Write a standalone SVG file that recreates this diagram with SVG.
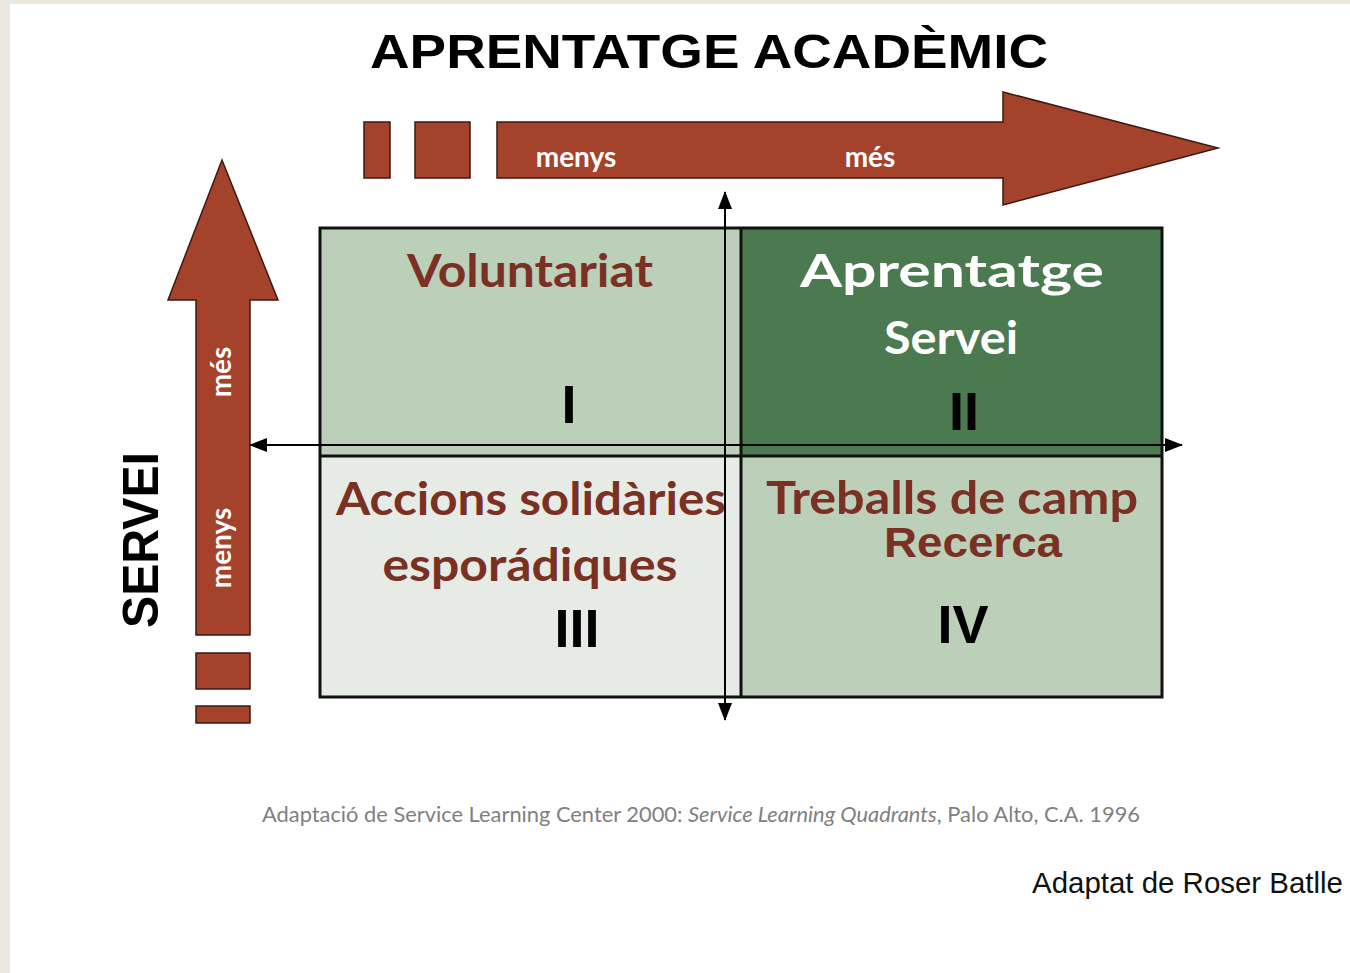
<svg xmlns="http://www.w3.org/2000/svg" width="1350" height="973" viewBox="0 0 1350 973">
<defs>
<style>
.red{fill:#A5422C;stroke:#3B1A12;stroke-width:1.5}
.title{font-family:"Liberation Sans",Arial,sans-serif;font-weight:bold;fill:#000}
.cal{font-family:Lato,"Open Sans",sans-serif;font-weight:bold}
.lab{fill:#7A3123}
.wht{fill:#FFFFFF}
.rom{font-family:"Liberation Sans",Arial,sans-serif;font-weight:bold;fill:#000;font-size:54px}
.edge{fill:none;stroke:#111;stroke-width:3}
.axis{stroke:#000;stroke-width:2;fill:none}
</style>
<marker id="ah" viewBox="0 0 18 14" refX="17" refY="7" markerWidth="18" markerHeight="14" markerUnits="userSpaceOnUse" orient="auto-start-reverse">
<path d="M0,0 L18,7 L0,14 Z" fill="#000"/>
</marker>
</defs>
<rect width="1350" height="973" fill="#FFFFFF"/>
<rect x="0" y="0" width="1350" height="4" fill="#ECE7DE"/>
<rect x="0" y="0" width="10" height="973" fill="#ECE7DE"/>

<g id="title">
<text class="title" x="709" y="68" font-size="48" text-anchor="middle" textLength="678" lengthAdjust="spacingAndGlyphs">APRENTATGE ACADÈMIC</text>
</g>

<g id="arrow-academic">
<rect class="red" x="364" y="122" width="26" height="56"/>
<rect class="red" x="415" y="122" width="55" height="56"/>
<path class="red" d="M497,122 L1003,122 L1003,92 L1218,148 L1003,205 L1003,178 L497,178 Z"/>
<text class="cal wht" x="576" y="167" font-size="28" text-anchor="middle">menys</text>
<text class="cal wht" x="870" y="167" font-size="28" text-anchor="middle">més</text>
</g>

<g id="arrow-servei">
<path class="red" d="M196,635 L196,300 L168,300 L222,160 L278,300 L250,300 L250,635 Z"/>
<rect class="red" x="196" y="653" width="54" height="36"/>
<rect class="red" x="196" y="706" width="54" height="17"/>
<text class="cal wht" transform="translate(231,372) rotate(-90)" font-size="28" text-anchor="middle">més</text>
<text class="cal wht" transform="translate(231,548) rotate(-90)" font-size="28" text-anchor="middle">menys</text>
</g>

<g id="label-servei">
<text class="title" transform="translate(158,540) rotate(-90)" font-size="50" text-anchor="middle" textLength="176" lengthAdjust="spacingAndGlyphs">SERVEI</text>
</g>

<g id="quadrant-I">
<rect x="320" y="228" width="421" height="228" fill="#BCCFB8"/>
<text class="cal lab" x="530" y="287" font-size="46" text-anchor="middle" textLength="246" lengthAdjust="spacingAndGlyphs">Voluntariat</text>
<text class="rom" x="569" y="423" text-anchor="middle">I</text>
</g>

<g id="quadrant-II">
<rect x="741" y="228" width="421" height="228" fill="#4B7A50"/>
<text class="cal wht" x="952" y="287" font-size="46" text-anchor="middle" textLength="304" lengthAdjust="spacingAndGlyphs">Aprentatge</text>
<text class="cal wht" x="951" y="354" font-size="46" text-anchor="middle" textLength="134" lengthAdjust="spacingAndGlyphs">Servei</text>
<text class="rom" x="964" y="430" text-anchor="middle">II</text>
</g>

<g id="quadrant-III">
<rect x="320" y="456" width="421" height="241" fill="#E7EBE6"/>
<text class="cal lab" x="531" y="515" font-size="46" text-anchor="middle" textLength="390" lengthAdjust="spacingAndGlyphs">Accions solidàries</text>
<text class="cal lab" x="530" y="581" font-size="46" text-anchor="middle" textLength="295" lengthAdjust="spacingAndGlyphs">esporádiques</text>
<text class="rom" x="577" y="647" text-anchor="middle">III</text>
</g>

<g id="quadrant-IV">
<rect x="741" y="456" width="421" height="241" fill="#BCCFB8"/>
<text class="cal lab" x="952" y="514" font-size="46" text-anchor="middle" textLength="372" lengthAdjust="spacingAndGlyphs">Treballs de camp</text>
<text x="973" y="557" font-family="Liberation Sans,Arial,sans-serif" font-weight="bold" font-size="42" fill="#7A3123" text-anchor="middle" textLength="178" lengthAdjust="spacingAndGlyphs">Recerca</text>
<text class="rom" x="963" y="643" text-anchor="middle" font-size="56">IV</text>
</g>

<g id="grid">
<rect class="edge" x="320" y="228" width="842" height="469"/>
<line class="edge" x1="741" y1="228" x2="741" y2="697"/>
<line class="edge" x1="320" y1="456" x2="1162" y2="456"/>
</g>

<g id="connectors">
<line class="axis" x1="250" y1="445" x2="1182" y2="445" marker-start="url(#ah)" marker-end="url(#ah)"/>
<line class="axis" x1="725" y1="192" x2="725" y2="720" marker-start="url(#ah)" marker-end="url(#ah)"/>
</g>

<g id="footer">
<text x="262" y="822" font-family="Lato,'Open Sans',sans-serif" font-size="21" fill="#808080" textLength="878" lengthAdjust="spacingAndGlyphs">Adaptació de Service Learning Center 2000: <tspan font-style="italic">Service Learning Quadrants</tspan>, Palo Alto, C.A. 1996</text>
<text x="1032" y="893" font-family="'Liberation Sans',Arial,sans-serif" font-size="30" fill="#111" textLength="311" lengthAdjust="spacingAndGlyphs">Adaptat de Roser Batlle</text>
</g>
</svg>
